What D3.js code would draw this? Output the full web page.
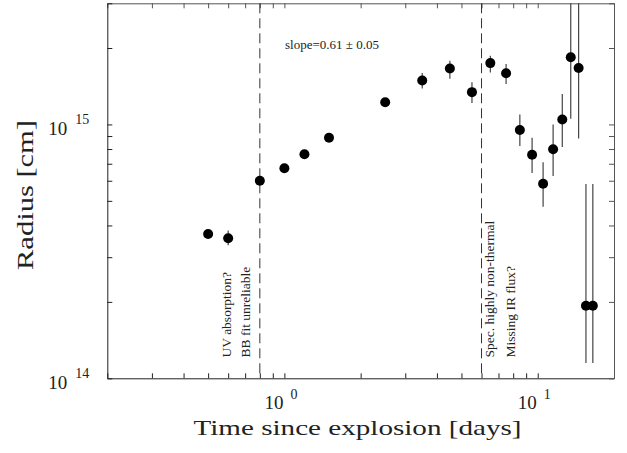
<!DOCTYPE html>
<html>
<head>
<meta charset="utf-8">
<script src="https://cdn.jsdelivr.net/npm/d3@7"></script>
<style>
  body { margin: 0; background: #fff; }
  text { font-family: "Liberation Serif", "DejaVu Serif", serif; fill: #222; }
</style>
</head>
<body>
<script>
// time since explosion [days]
const times = [0.5, 0.6, 0.8, 1.0, 1.2, 1.5, 2.5, 3.5, 4.5, 5.5, 6.5, 7.5,
  8.5, 9.5, 10.5, 11.5, 12.5, 13.5, 14.5, 15.5, 16.5];
// radius in units of 1e15 cm
const radii = [0.37, 0.356, 0.60, 0.672, 0.763, 0.886, 1.223, 1.49, 1.66, 1.34,
  1.744, 1.59, 0.95, 0.76, 0.584, 0.798, 1.046, 1.84, 1.667, 0.193, 0.193];
// error bar ends (1e15 cm)
const radLow = [0.362, 0.334, 0.585, 0.655, 0.745, 0.866, 1.20, 1.384, 1.515, 1.215,
  1.603, 1.443, 0.822, 0.643, 0.474, 0.627, 0.815, 1.052, 0.881, 0.115, 0.115];
const radHigh = [0.378, 0.382, 0.615, 0.689, 0.781, 0.906, 1.246, 1.594, 1.782, 1.465,
  1.865, 1.729, 1.094, 0.886, 0.710, 1.0, 1.318, 3.2, 3.2, 0.582, 0.582];

const xTicks = [1, 10];
const yTicks = [1e14, 1e15];
const dashedAt = [0.8, 6];
const slopeText = 'slope=0.61 \u00b1 0.05';
const notes = [
  { x: 231, text: 'UV absorption?' },
  { x: 250, text: 'BB fit unreliable' },
  { x: 494, text: 'Spec. highly non-thermal' },
  { x: 515, text: 'Missing IR flux?' },
];

const margin = { top: 3.3, right: 13, bottom: 74.7, left: 107.3 };
const W = 627, H = 453;
const width = W - margin.left - margin.right;
const height = H - margin.top - margin.bottom;

const x = d3.scaleLog().domain([0.2, 20]).range([0, width]);
const y = d3.scaleLog().domain([1e14, 3e15]).range([height, 0]);

const svg = d3.select('body').append('svg')
  .attr('width', W).attr('height', H);
const g = svg.append('g')
  .attr('transform', `translate(${margin.left},${margin.top})`);

svg.append('defs').append('clipPath').attr('id', 'clip')
  .append('rect').attr('width', width).attr('height', height);

// minor + major tick values
const xAll = [];
[0.1, 1, 10].forEach(d => { for (let k = 1; k <= 9; k++) xAll.push(d * k); });
xAll.push(20);
const xTickVals = xAll.filter(v => v >= 0.2 && v <= 20);
const yAll = [];
[1e14, 1e15].forEach(d => { for (let k = 1; k <= 9; k++) yAll.push(d * k); });
const yTickVals = yAll.filter(v => v >= 1e14 && v <= 3e15);

const tickLen = 5;
const axisStyle = col => sel => {
  sel.select('.domain').attr('stroke', col);
  sel.selectAll('.tick line').attr('stroke', col);
  sel.selectAll('.tick text').remove();
};

g.append('g').attr('transform', `translate(0,${height})`)
  .call(d3.axisBottom(x).tickValues(xTickVals).tickSize(-tickLen).tickSizeOuter(0).tickFormat(''))
  .call(axisStyle('#222'));
g.append('g')
  .call(d3.axisTop(x).tickValues(xTickVals).tickSize(-tickLen).tickSizeOuter(0).tickFormat(''))
  .call(axisStyle('#555'));
g.append('g')
  .call(d3.axisLeft(y).tickValues(yTickVals).tickSize(-tickLen).tickSizeOuter(0).tickFormat(''))
  .call(axisStyle('#222'));
g.append('g').attr('transform', `translate(${width},0)`)
  .call(d3.axisRight(y).tickValues(yTickVals).tickSize(-tickLen).tickSizeOuter(0).tickFormat(''))
  .call(axisStyle('#555'));

// tick labels "10^n"
xTicks.forEach(v => {
  const t = g.append('text')
    .attr('x', x(v) - 20).attr('y', height + 31)
    .style('font-size', '19px');
  t.append('tspan').text('10');
  t.append('tspan').attr('dx', 7).attr('dy', -10)
    .style('font-size', '14px').text(Math.round(Math.log10(v)));
});
yTicks.forEach(v => {
  const t = g.append('text')
    .attr('x', -59).attr('y', y(v) + 11)
    .style('font-size', '19px');
  t.append('tspan').text('10');
  t.append('tspan').attr('dx', 8).attr('dy', -11)
    .style('font-size', '14px').text(Math.round(Math.log10(v)));
});

// dashed separators
g.selectAll('.sep').data(dashedAt).enter().append('line')
  .attr('x1', d => x(d)).attr('x2', d => x(d))
  .attr('y1', 0).attr('y2', height)
  .attr('stroke', '#333').attr('stroke-width', 1)
  .attr('stroke-dasharray', '10,5');

// error bars
const pts = times.map((t, i) => ({ t, r: radii[i] * 1e15, lo: radLow[i] * 1e15, hi: radHigh[i] * 1e15 }));
g.append('g').attr('clip-path', 'url(#clip)')
  .selectAll('line').data(pts).enter().append('line')
  .attr('x1', d => x(d.t)).attr('x2', d => x(d.t))
  .attr('y1', d => y(d.lo)).attr('y2', d => y(d.hi))
  .attr('stroke', '#444').attr('stroke-width', 1.2);

// points
g.selectAll('circle').data(pts).enter().append('circle')
  .attr('cx', d => x(d.t)).attr('cy', d => y(d.r))
  .attr('r', 5).attr('fill', '#000');

// slope annotation
g.append('text')
  .attr('x', 177.7).attr('y', 46)
  .style('font-size', '13px')
  .text(slopeText);

// rotated notes
notes.forEach(n => {
  g.append('text')
    .attr('transform', `translate(${n.x - margin.left},${357.5 - margin.top}) rotate(-90)`)
    .style('font-size', '13.5px')
    .text(n.text);
});

// axis titles
svg.append('text')
  .attr('x', 357.5).attr('y', 435)
  .attr('text-anchor', 'middle')
  .attr('textLength', 328).attr('lengthAdjust', 'spacingAndGlyphs')
  .style('font-size', '22px')
  .text('Time since explosion [days]');

svg.append('text')
  .attr('transform', 'translate(33,195) rotate(-90)')
  .attr('text-anchor', 'middle')
  .attr('textLength', 150).attr('lengthAdjust', 'spacingAndGlyphs')
  .style('font-size', '24px')
  .text('Radius [cm]');
</script>
</body>
</html>
